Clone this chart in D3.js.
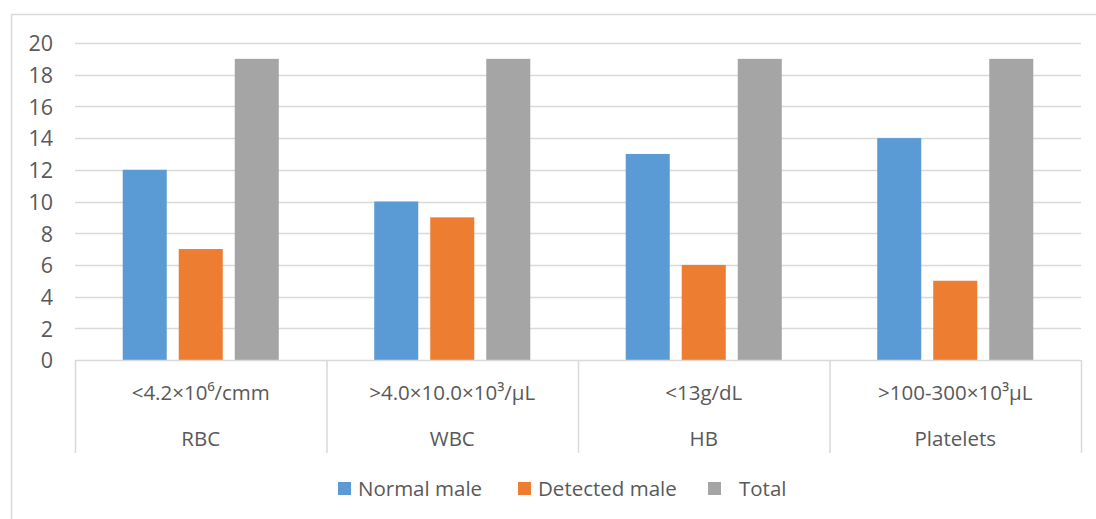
<!DOCTYPE html>
<html>
<head>
<meta charset="utf-8">
<script src="https://cdn.jsdelivr.net/npm/d3@7/dist/d3.min.js"></script>
<style>
  html, body { margin: 0; padding: 0; background: #fff; }
  svg { display: block; }
  text { font-family: "Open Sans", "Noto Sans", sans-serif; fill: #595959; }
</style>
</head>
<body>
<svg id="chart" width="1096" height="519"></svg>
<script>
// Blood parameters: reference range and parameter name per group
const ranges = ["<4.2×10⁶/cmm", ">4.0×10.0×10³/μL", "<13g/dL", ">100-300×10³μL"];
const parameters = ["RBC", "WBC", "HB", "Platelets"];
const seriesNames = ["Normal male", "Detected male", "Total"];
const normalMale = [12, 10, 13, 14];
const detectedMale = [7, 9, 6, 5];
const total = [19, 19, 19, 19];
const yTicks = [0, 2, 4, 6, 8, 10, 12, 14, 16, 18, 20];
const colors = ["#5B9BD5", "#ED7D31", "#A5A5A5"];

const series = [normalMale, detectedMale, total];

const svg = d3.select("#chart");
const plotLeft = 75, plotRight = 1081, plotTop = 43, plotBottom = 360;
const fontSize = 20.5;

// outer chart frame
svg.append("rect")
  .attr("x", 11.5).attr("y", 14.5)
  .attr("width", 1200).attr("height", 600)
  .attr("fill", "none").attr("stroke", "#d9d9d9").attr("stroke-width", 1.5);

const x = d3.scaleBand().domain(parameters).range([plotLeft, plotRight]).paddingInner(0).paddingOuter(0);
const xInner = d3.scaleBand().domain(seriesNames).range([0, x.bandwidth()])
  .paddingInner(0.214).paddingOuter(0.852);
const y = d3.scaleLinear().domain([0, 20]).range([plotBottom, plotTop]);

// horizontal gridlines
svg.append("g").selectAll("line").data(yTicks.filter(d => d > 0)).join("line")
  .attr("x1", plotLeft).attr("x2", plotRight)
  .attr("y1", d => Math.round(y(d)) + 0.5).attr("y2", d => Math.round(y(d)) + 0.5)
  .attr("stroke", "#d9d9d9").attr("stroke-width", 1.5);

// y axis labels
const yAxis = d3.axisLeft(y).tickValues(yTicks).tickSize(0).tickPadding(0);
const gy = svg.append("g").attr("transform", `translate(53,1)`).call(yAxis);
gy.select(".domain").remove();
gy.attr("font-size", null).attr("font-family", null);
gy.selectAll("text").style("font-size", "21.5px").attr("fill", "#595959")
  .style("font-family", '"Open Sans", sans-serif');

// bars
const groups = svg.append("g").selectAll("g").data(parameters).join("g")
  .attr("transform", d => `translate(${x(d)},0)`);
groups.selectAll("rect")
  .data((p, i) => series.map((s, k) => ({ name: seriesNames[k], value: s[i], k })))
  .join("rect")
  .attr("x", d => xInner(d.name))
  .attr("width", xInner.bandwidth())
  .attr("y", d => y(d.value))
  .attr("height", d => y(0) - y(d.value))
  .attr("fill", d => colors[d.k]);

// category axis: baseline, dividers and two-level labels
const axisG = svg.append("g");
axisG.append("line")
  .attr("x1", plotLeft).attr("x2", plotRight).attr("y1", plotBottom + 0.5).attr("y2", plotBottom + 0.5)
  .attr("stroke", "#d9d9d9").attr("stroke-width", 1.5);
const dividers = parameters.map(p => x(p)).concat([plotRight]);
axisG.selectAll("line.div").data(dividers).join("line").attr("class", "div")
  .attr("x1", d => d + 0.5).attr("x2", d => d + 0.5)
  .attr("y1", plotBottom).attr("y2", 453)
  .attr("stroke", "#d9d9d9").attr("stroke-width", 1.5);
axisG.selectAll("text.range").data(parameters).join("text").attr("class", "range")
  .attr("x", d => x(d) + x.bandwidth() / 2).attr("y", 400)
  .attr("text-anchor", "middle").style("font-size", fontSize + "px")
  .text((d, i) => ranges[i]);
axisG.selectAll("text.param").data(parameters).join("text").attr("class", "param")
  .attr("x", d => x(d) + x.bandwidth() / 2).attr("y", 446)
  .attr("text-anchor", "middle").style("font-size", fontSize + "px")
  .text(d => d);

// legend
const legendPos = [338, 518, 708];
const legendText = [358, 538, 739];
const legend = svg.append("g");
seriesNames.forEach((n, k) => {
  legend.append("rect").attr("x", legendPos[k]).attr("y", 482)
    .attr("width", 13).attr("height", 13).attr("fill", colors[k]);
  legend.append("text").attr("x", legendText[k]).attr("y", 496)
    .style("font-size", fontSize + "px").text(n);
});
</script>
</body>
</html>
